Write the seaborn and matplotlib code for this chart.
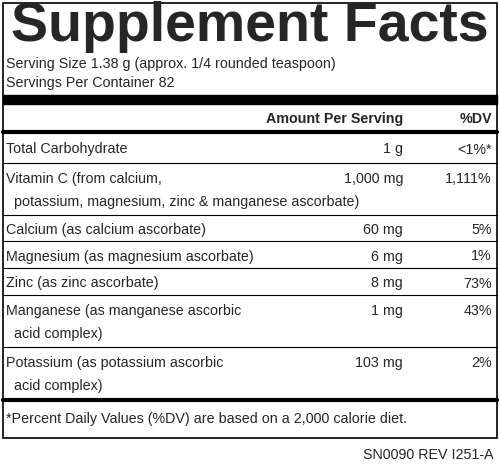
import matplotlib
matplotlib.use("Agg")
import matplotlib.pyplot as plt
import seaborn as sns

# Label contents
title = "Supplement Facts"
serving_lines = ["Serving Size 1.38 g (approx. 1/4 rounded teaspoon)",
                 "Servings Per Container 82"]
nutrients = [["Total Carbohydrate"],
             ["Vitamin C (from calcium,", "  potassium, magnesium, zinc & manganese ascorbate)"],
             ["Calcium (as calcium ascorbate)"],
             ["Magnesium (as magnesium ascorbate)"],
             ["Zinc (as zinc ascorbate)"],
             ["Manganese (as manganese ascorbic", "  acid complex)"],
             ["Potassium (as potassium ascorbic", "  acid complex)"]]
amounts = ["1 g", "1,000 mg", "60 mg", "6 mg", "8 mg", "1 mg", "103 mg"]
dvs = ["<1%*", "1,111%", "5%", "1%", "73%", "43%", "2%"]
footnote = "*Percent Daily Values (%DV) are based on a 2,000 calorie diet."
code = "SN0090 REV I251-A"

# row boundaries (pixels from top)
rows = [132, 163, 215, 241, 268, 295, 347, 400]

sns.set_theme(style="white")
plt.rcParams['font.family'] = ['Liberation Sans', 'DejaVu Sans']

fig = plt.figure(figsize=(5, 4.67), dpi=100)
ax = fig.add_axes([0, 0, 1, 1])
ax.set_xlim(0, 500)
ax.set_ylim(467, 0)
ax.axis("off")

fs = 10.3
ax.add_patch(plt.Rectangle((3, 3), 494, 435, fill=False, lw=1.2, color="black"))
ax.text(250, 27, title, fontsize=40, fontweight="bold", ha="center", va="center")
ax.text(6, 64, serving_lines[0], fontsize=fs, va="center")
ax.text(6, 83, serving_lines[1], fontsize=fs, va="center")
ax.add_patch(plt.Rectangle((3, 95), 494, 9, color="black"))
ax.text(403, 119, "Amount Per Serving", fontsize=fs, fontweight="bold", ha="right", va="center")
ax.text(492, 119, "%DV", fontsize=fs, fontweight="bold", ha="right", va="center")
ax.plot([3, 497], [132, 132], color="black", lw=3)

for i, lines in enumerate(nutrients):
    top, bot = rows[i], rows[i + 1]
    if len(lines) == 1:
        first = (top + bot) / 2 + 2
    else:
        first = top + 16
    for j, ln in enumerate(lines):
        ax.text(6, first + j * 23, ln, fontsize=fs, va="center")
    ax.text(403, first, amounts[i], fontsize=fs, ha="right", va="center")
    ax.text(492, first, dvs[i], fontsize=fs, ha="right", va="center")
    if i < len(nutrients) - 1:
        ax.plot([3, 497], [bot, bot], color="black", lw=0.8)
ax.plot([3, 497], [rows[-1], rows[-1]], color="black", lw=3)
ax.text(6, 419, footnote, fontsize=fs, va="center")
ax.text(494, 455, code, fontsize=fs, ha="right", va="center")

fig.savefig("out.png", dpi=100, facecolor="white")
